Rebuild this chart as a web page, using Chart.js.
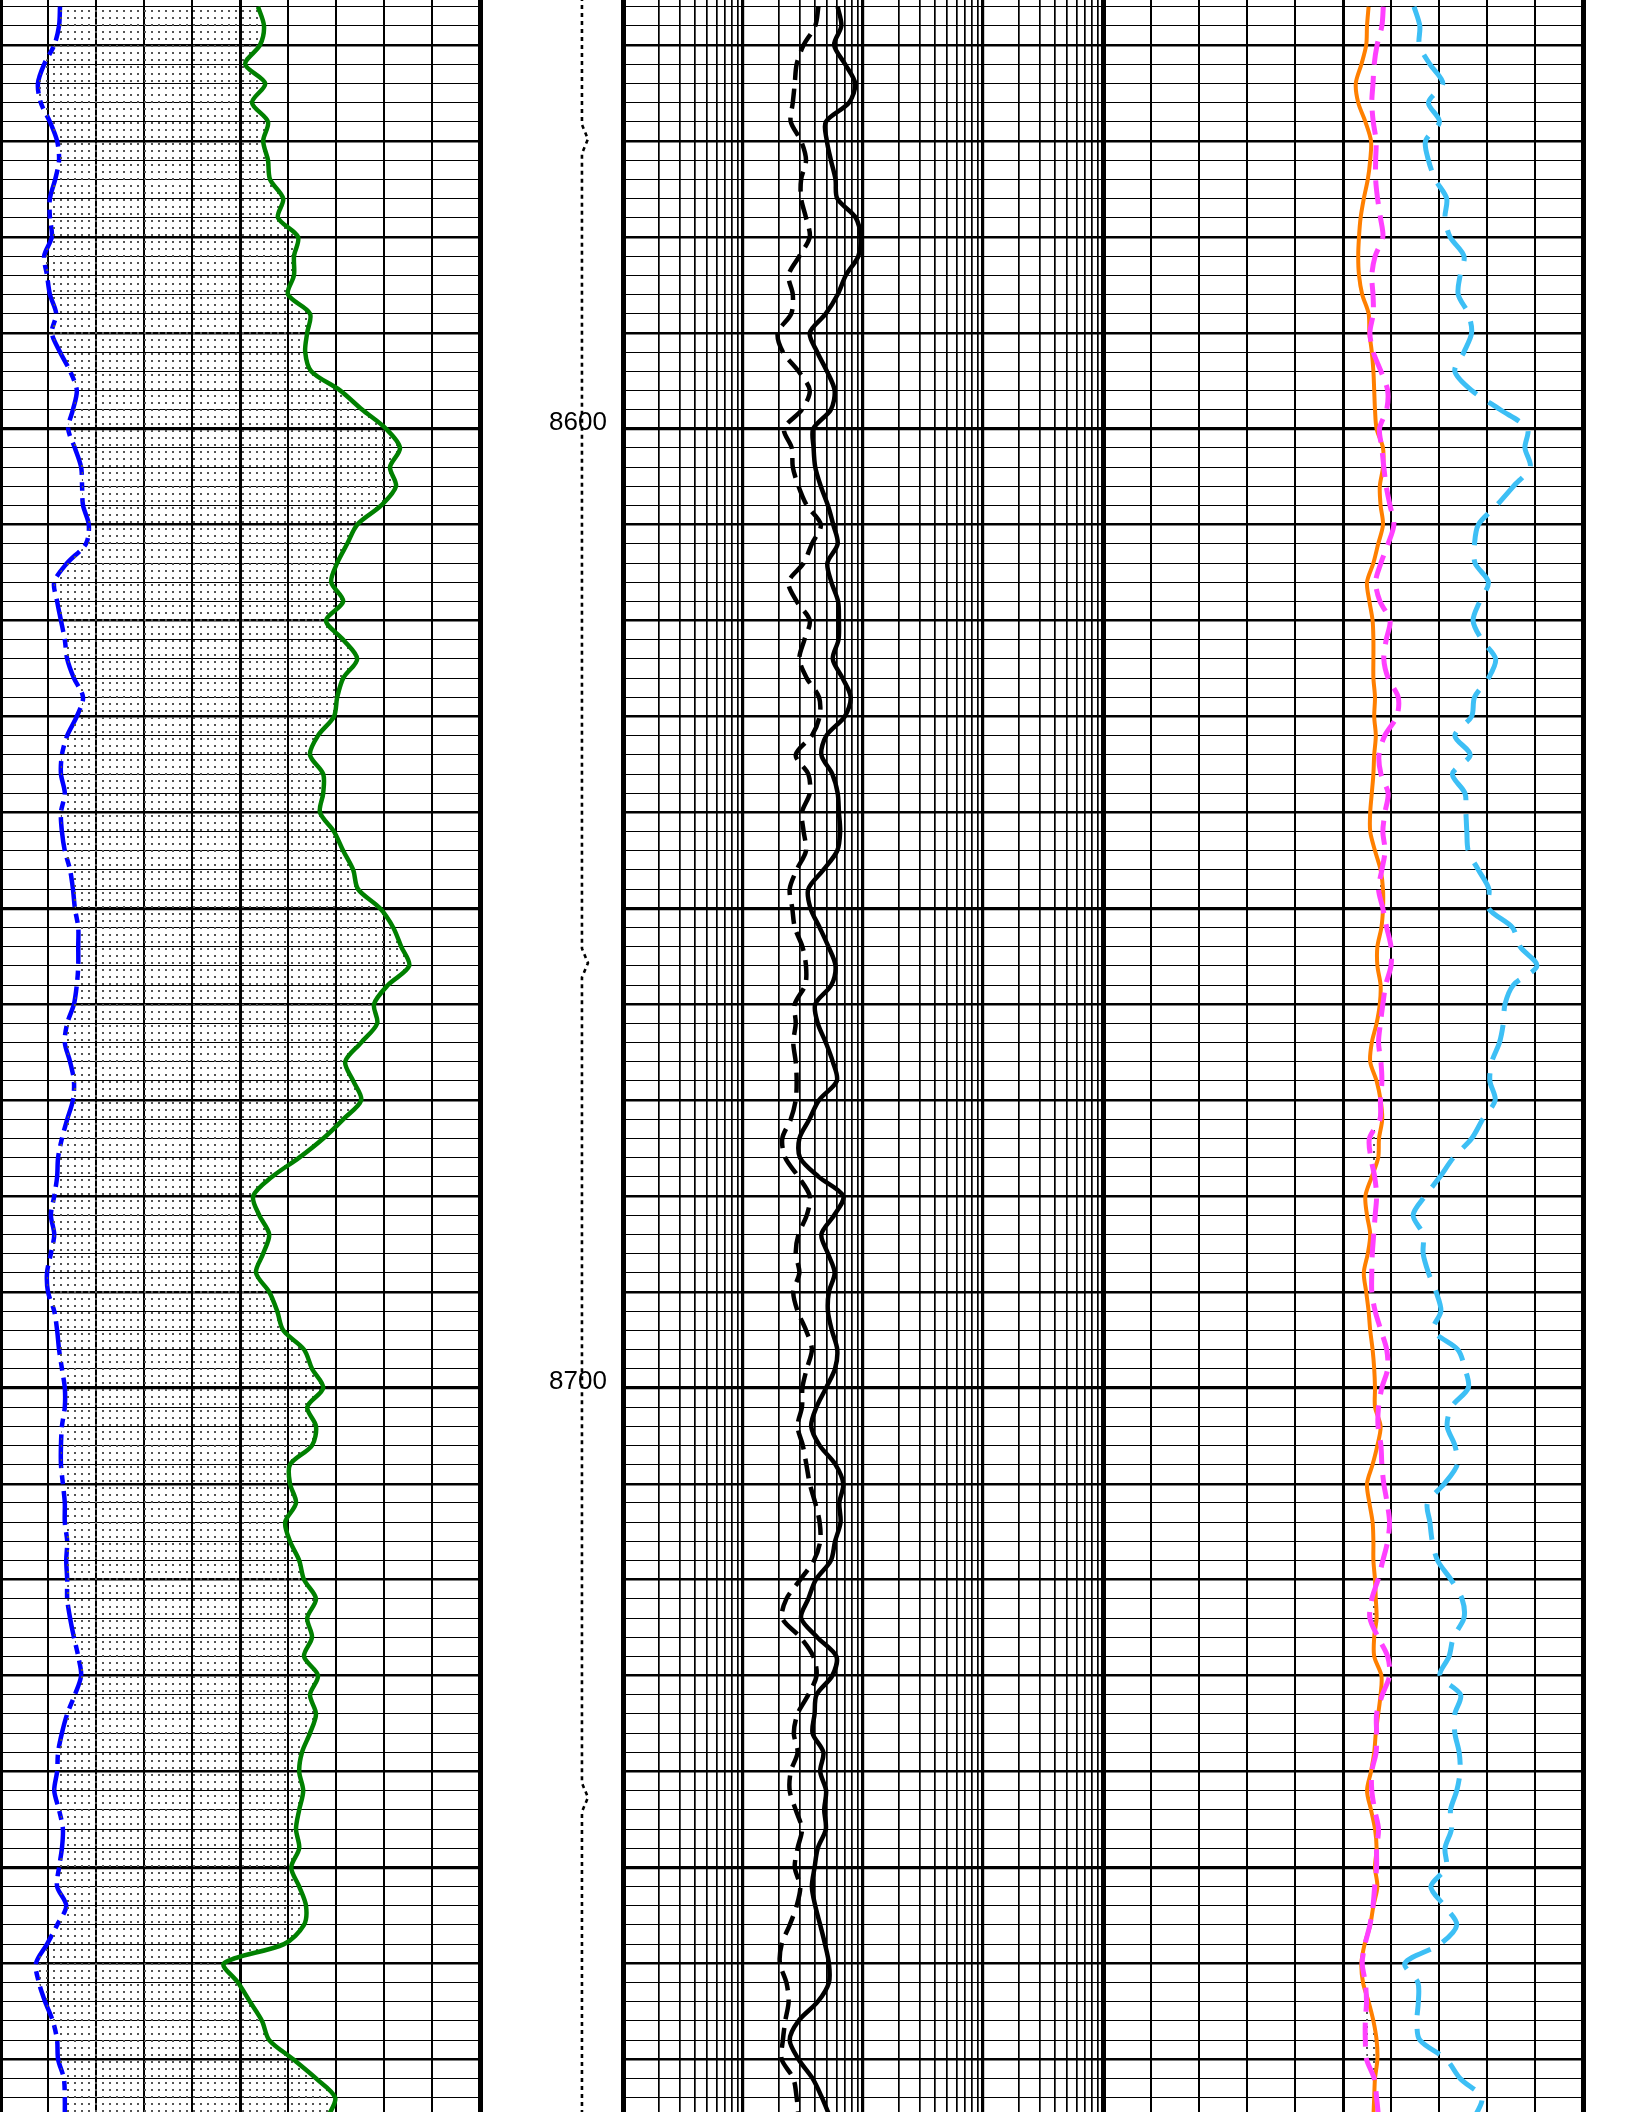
<!DOCTYPE html>
<html>
<head>
<meta charset="utf-8">
<title>Well log 8555 - 8775 ft</title>
<script src="https://cdn.jsdelivr.net/npm/chart.js@4.4.1/dist/chart.umd.min.js"></script>
<style>
  html, body { margin: 0; padding: 0; background: #fff; }
  #log { position: relative; width: 1632px; height: 2112px; overflow: hidden; background: #fff; }
  .track { position: absolute; top: 0; height: 2112px; }
  .track canvas { display: block; }
</style>
</head>
<body>
<div id="log">
  <div class="track" id="trk-gr"    style="left:-6px;   width:492px;"><canvas id="c-gr"></canvas></div>
  <div class="track" id="trk-depth" style="left:480px;  width:143px;"><canvas id="c-depth"></canvas></div>
  <div class="track" id="trk-res"   style="left:617px;  width:492px;"><canvas id="c-res"></canvas></div>
  <div class="track" id="trk-por"   style="left:1097px; width:492px;"><canvas id="c-por"></canvas></div>
</div>
<script>
'use strict';

const Chart = window.Chart;

// ─────────────────────────────────────────────────────────────
// 1. Data (read off the log, one sample every 2 ft)
// ─────────────────────────────────────────────────────────────

const TOP_DEPTH  = 8555.3;
const BASE_DEPTH = 8775.5;

const DEPTH = [
  8556, 8558, 8560, 8562, 8564, 8566, 8568, 8570, 8572, 8574,
  8576, 8578, 8580, 8582, 8584, 8586, 8588, 8590, 8592, 8594,
  8596, 8598, 8600, 8602, 8604, 8606, 8608, 8610, 8612, 8614,
  8616, 8618, 8620, 8622, 8624, 8626, 8628, 8630, 8632, 8634,
  8636, 8638, 8640, 8642, 8644, 8646, 8648, 8650, 8652, 8654,
  8656, 8658, 8660, 8662, 8664, 8666, 8668, 8670, 8672, 8674,
  8676, 8678, 8680, 8682, 8684, 8686, 8688, 8690, 8692, 8694,
  8696, 8698, 8700, 8702, 8704, 8706, 8708, 8710, 8712, 8714,
  8716, 8718, 8720, 8722, 8724, 8726, 8728, 8730, 8732, 8734,
  8736, 8738, 8740, 8742, 8744, 8746, 8748, 8750, 8752, 8754,
  8756, 8758, 8760, 8762, 8764, 8766, 8768, 8770, 8772, 8774,
  8776,
];

// gamma ray, API (track 1, green)
const GR = [
  64.5, 66, 65, 61.3, 66.3, 63, 67, 65.8, 67, 67.5,
  70.8, 69.5, 74.5, 73.5, 73.5, 72, 77.5, 76.8, 76.3, 77.8,
  85, 90.5, 96.5, 100, 97.5, 99, 95.3, 89.3, 86.8, 84.3,
  82.8, 85.8, 81.5, 85.8, 89.3, 85.8, 84.3, 83.5, 79.5, 77.5,
  80.8, 80.8, 80, 83.5, 85.8, 88.3, 89.5, 95, 98.3, 100.3,
  102.3, 97, 93.5, 94.3, 90.3, 86.3, 88.3, 90.3, 85.8, 80.8,
  74.8, 68, 63.3, 64.8, 67.3, 65.8, 64, 67.3, 69.3, 70.8,
  76, 78, 80.8, 76.8, 79, 78, 72.5, 72.5, 74, 71.3,
  72.5, 74.8, 76, 79, 76.8, 78, 76, 79.5, 77.5, 79,
  77.5, 75.5, 74.8, 75.8, 74.8, 74, 74.8, 72.8, 74.8, 76.5,
  76, 71, 56, 59.5, 62.5, 65.5, 67.3, 73.3, 79, 83.8,
  82,
];

// caliper, in (track 1, blue)
const CALI = [
  7.25, 7.23, 7.13, 6.92, 6.79, 6.85, 7.04, 7.19, 7.23, 7.15,
  7.04, 7.04, 7.08, 6.92, 6.98, 7.04, 7.17, 7.08, 7.25, 7.46,
  7.60, 7.52, 7.42, 7.56, 7.69, 7.71, 7.73, 7.85, 7.79, 7.40,
  7.13, 7.19, 7.27, 7.35, 7.40, 7.54, 7.73, 7.60, 7.40, 7.29,
  7.27, 7.35, 7.27, 7.29, 7.35, 7.46, 7.52, 7.56, 7.63, 7.63,
  7.63, 7.60, 7.54, 7.40, 7.35, 7.46, 7.54, 7.52, 7.40, 7.29,
  7.21, 7.19, 7.13, 7.06, 7.13, 7.06, 6.98, 7.00, 7.13, 7.19,
  7.23, 7.29, 7.35, 7.35, 7.29, 7.27, 7.27, 7.31, 7.35, 7.35,
  7.40, 7.38, 7.40, 7.40, 7.46, 7.54, 7.63, 7.69, 7.56, 7.40,
  7.29, 7.21, 7.19, 7.13, 7.23, 7.31, 7.29, 7.23, 7.19, 7.38,
  7.19, 6.98, 6.75, 6.81, 6.94, 7.10, 7.19, 7.21, 7.33, 7.35,
  7.35,
];

// deep resistivity, ohm.m (track 2, solid)
const RES_DEEP = [
  12.3, 13.2, 11.5, 14.2, 17.2, 15.3, 9.8, 10.0, 10.8, 11.8,
  12.2, 17.4, 19.1, 18.3, 14.4, 12.3, 9.8, 7.2, 8.3, 10.0,
  11.6, 10.8, 7.7, 7.75, 8.0, 8.9, 10.2, 11.3, 12.3, 10.1,
  10.9, 12.4, 12.6, 12.5, 11.2, 13.5, 15.8, 14.1, 9.9, 9.0,
  11.1, 12.3, 12.6, 12.9, 12.2, 9.35, 7.0, 7.3, 8.7, 10.3,
  11.8, 10.9, 8.0, 8.4, 9.8, 11.2, 12.1, 8.6, 7.15, 5.9,
  5.97, 8.55, 13.7, 11.5, 9.0, 10.2, 11.6, 10.4, 10.2, 11.0,
  12.2, 11.7, 9.85, 8.2, 7.4, 8.7, 11.8, 13.7, 12.7, 13.0,
  11.7, 10.8, 8.1, 7.0, 6.1, 8.3, 12.0, 11.1, 8.2, 7.9,
  7.6, 9.35, 8.8, 9.85, 9.5, 9.8, 8.4, 7.9, 7.5, 8.0,
  8.8, 9.65, 10.4, 10.4, 8.4, 5.8, 4.9, 5.8, 7.6, 9.1,
  10.6,
];

// shallow resistivity, ohm.m (track 2, dashed)
const RES_SHAL = [
  8.5, 8.0, 6.4, 5.6, 5.4, 5.2, 5.0, 6.1, 6.7, 6.1,
  6.1, 6.7, 7.2, 5.9, 4.8, 5.2, 5.05, 3.9, 4.3, 5.8,
  7.2, 6.2, 4.4, 5.1, 5.2, 5.8, 6.8, 8.9, 7.5, 6.4,
  4.8, 5.6, 7.2, 6.5, 5.9, 6.8, 8.6, 8.7, 7.5, 5.5,
  7.0, 7.2, 6.2, 6.4, 6.7, 5.6, 4.9, 5.15, 5.4, 6.25,
  6.7, 6.6, 5.4, 5.5, 5.25, 5.5, 5.6, 5.5, 5.0, 4.25,
  4.5, 5.8, 7.2, 6.8, 5.8, 5.5, 5.9, 5.25, 5.7, 6.7,
  7.5, 6.8, 6.25, 6.2, 5.7, 6.3, 6.75, 7.2, 8.0, 8.7,
  8.8, 7.8, 6.0, 4.6, 4.25, 6.0, 7.7, 8.2, 7.0, 5.7,
  5.3, 5.7, 5.0, 4.9, 5.5, 6.2, 5.7, 5.4, 6.0, 5.6,
  4.9, 4.2, 4.06, 4.6, 4.8, 4.5, 4.3, 4.2, 5.25, 5.6,
  5.8,
];

// neutron porosity, v/v (track 3, orange)
const NPHI = [
  0.118, 0.120, 0.121, 0.127, 0.134, 0.131, 0.122, 0.115, 0.116, 0.119,
  0.124, 0.128, 0.130, 0.131, 0.130, 0.126, 0.118, 0.117, 0.114, 0.112,
  0.111, 0.110, 0.108, 0.100, 0.100, 0.104, 0.103, 0.100, 0.106, 0.112,
  0.120, 0.117, 0.113, 0.112, 0.112, 0.112, 0.110, 0.111, 0.109, 0.111,
  0.112, 0.114, 0.116, 0.116, 0.110, 0.103, 0.100, 0.100, 0.102, 0.107,
  0.107, 0.103, 0.104, 0.108, 0.114, 0.116, 0.108, 0.103, 0.101, 0.105,
  0.106, 0.114, 0.122, 0.120, 0.116, 0.119, 0.124, 0.121, 0.118, 0.116,
  0.113, 0.111, 0.110, 0.110, 0.103, 0.107, 0.113, 0.120, 0.117, 0.113,
  0.112, 0.112, 0.110, 0.109, 0.108, 0.111, 0.111, 0.102, 0.103, 0.106,
  0.109, 0.111, 0.115, 0.120, 0.115, 0.110, 0.108, 0.110, 0.107, 0.112,
  0.116, 0.123, 0.127, 0.125, 0.118, 0.112, 0.108, 0.107, 0.110, 0.111,
  0.112,
];

// bulk density, g/cc (track 3, magenta dashed)
const RHOB = [
  2.534, 2.531, 2.521, 2.515, 2.5125, 2.510, 2.513, 2.519, 2.518, 2.518,
  2.522, 2.528, 2.533, 2.517, 2.510, 2.5125, 2.513, 2.506, 2.513, 2.529,
  2.543, 2.541, 2.526, 2.531, 2.535, 2.540, 2.548, 2.556, 2.544, 2.529,
  2.518, 2.527, 2.548, 2.540, 2.535, 2.544, 2.565, 2.562, 2.537, 2.525,
  2.529, 2.544, 2.5375, 2.533, 2.5375, 2.531, 2.524, 2.533, 2.541, 2.550,
  2.550, 2.539, 2.533, 2.528, 2.524, 2.529, 2.531, 2.528, 2.527, 2.505,
  2.508, 2.516, 2.520, 2.517, 2.514, 2.511, 2.510, 2.510, 2.517, 2.529,
  2.541, 2.543, 2.531, 2.524, 2.523, 2.529, 2.531, 2.535, 2.542, 2.547,
  2.543, 2.533, 2.523, 2.510, 2.506, 2.523, 2.543, 2.547, 2.532, 2.520,
  2.520, 2.519, 2.510, 2.510, 2.516, 2.524, 2.520, 2.520, 2.516, 2.5125,
  2.506, 2.496, 2.490, 2.4965, 2.499, 2.4965, 2.4965, 2.499, 2.515, 2.520,
  2.524,
];

// sonic, us/ft (track 3, light blue dashed)
const DT = [
  75.2, 74.0, 74.1, 71.9, 69.2, 72.2, 69.9, 72.8, 72.2, 70.8,
  68.4, 68.75, 67.7, 64.8, 65.6, 66.0, 63.9, 63.2, 64.8, 66.7,
  63.2, 57.3, 51.6, 52.1, 51.0, 54.5, 58.0, 61.8, 62.6, 62.5,
  59.7, 61.5, 62.9, 61.1, 58.2, 59.7, 62.6, 63.2, 66.7, 63.5,
  67.2, 64.6, 64.4, 64.2, 63.9, 61.8, 59.6, 59.7, 54.7, 53.1,
  49.6, 54.5, 56.25, 56.6, 57.4, 59.0, 59.4, 58.3, 60.9, 63.2,
  67.0, 69.8, 72.9, 75.4, 73.3, 73.3, 72.2, 70.6, 69.6, 71.2,
  66.1, 64.6, 63.9, 67.4, 68.3, 66.7, 66.2, 68.9, 72.4, 71.9,
  71.4, 70.3, 67.5, 65.2, 64.8, 67.0, 67.9, 69.8, 65.5, 66.7,
  66.7, 65.8, 65.6, 66.3, 67.6, 67.4, 68.75, 68.5, 71.7, 68.9,
  66.3, 69.8, 77.1, 74.4, 74.3, 74.6, 74.0, 68.5, 65.6, 61.1,
  62.5,
];

// cable tension in the depth column (dotted), arbitrary units 0-10
const TENS_DEPTH = [8555, 8568.3, 8569.8, 8571.3, 8654.2, 8655.7, 8657.2, 8741.2, 8742.7, 8744.2, 8776];
const TENS       = [7.13, 7.13,   7.55,   7.13,   7.13,   7.55,   7.13,   7.13,   7.55,   7.13,   7.13];

// depth annotations
const DEPTH_LABELS = [8600, 8700];

// log grid for resistivity: decade starts and multipliers
const RES_DECADES = [0.2, 2, 20, 200];
const RES_MULT    = [1, 2, 3, 4, 5, 6, 7, 8, 9];

// ─────────────────────────────────────────────────────────────
// 2. Style helpers
// ─────────────────────────────────────────────────────────────

const PAD        = 6;
const TENSION    = 0.3;
const LABEL_FONT = '26px "Liberation Sans", Arial, Helvetica, sans-serif';

function makeStipple() {
  const tile = document.createElement('canvas');
  tile.width = 7;
  tile.height = 7;
  const t = tile.getContext('2d');
  t.fillStyle = '#555';
  t.fillRect(3, 3, 2, 2);
  return t.createPattern(tile, 'repeat');
}
const STIPPLE = makeStipple();

function depthGridWidth(v) {
  const d = Math.round(v);
  if (d % 50 === 0) return 3.3;
  if (d % 10 === 0) return 2.4;
  return 1;
}

/** shared vertical (depth) axis, draws the horizontal grid */
function depthAxis(showGrid) {
  return {
    type: 'linear',
    reverse: true,
    min: TOP_DEPTH,
    max: BASE_DEPTH,
    display: showGrid,
    afterBuildTicks: scale => {
      const ticks = [];
      for (let d = Math.ceil(TOP_DEPTH / 2) * 2; d <= BASE_DEPTH; d += 2) ticks.push({ value: d });
      scale.ticks = ticks;
    },
    ticks:  { display: false },
    border: { display: false },
    grid: {
      drawTicks: false,
      color: '#000',
      lineWidth: ctx => depthGridWidth(ctx.tick.value),
    },
  };
}

/** linear track axis with 10 divisions, heavy edges and centre */
function linearGridAxis(min, max, reverse) {
  return {
    type: 'linear',
    min, max, reverse: !!reverse,
    afterBuildTicks: scale => {
      const ticks = [];
      for (let k = 0; k <= 10; k++) ticks.push({ value: min + (max - min) * k / 10 });
      scale.ticks = ticks;
    },
    ticks:  { display: false },
    border: { display: false },
    grid: {
      drawTicks: false,
      color: '#000',
      lineWidth: ctx => (ctx.index === 0 || ctx.index === 10) ? 5 : (ctx.index === 5 ? 3 : 2),
    },
  };
}

function hiddenAxis(min, max, reverse) {
  return { type: 'linear', axis: 'x', min, max, reverse: !!reverse, display: false };
}

function series(values, depths) {
  const d = depths || DEPTH;
  return values.map((v, i) => ({ x: v, y: d[i] }));
}

function baseOptions(padding, scales) {
  return {
    indexAxis: 'y',
    responsive: true,
    maintainAspectRatio: false,
    animation: false,
    events: [],
    layout: { padding: { left: padding, right: padding, top: 0, bottom: 0 } },
    plugins: { legend: { display: false }, tooltip: { enabled: false } },
    elements: {
      point: { radius: 0, hoverRadius: 0 },
      line:  { tension: TENSION, borderJoinStyle: 'round' },
    },
    scales,
  };
}

// ─────────────────────────────────────────────────────────────
// 3. Plugins
// ─────────────────────────────────────────────────────────────

// stipple where density (dataset 0) sits left of neutron (dataset 1)
const crossoverFill = {
  id: 'crossoverFill',
  beforeDatasetsDraw(chart) {
    const { ctx, chartArea: a } = chart;
    const rhob = chart.getDatasetMeta(0).data;
    const nphi = chart.getDatasetMeta(1).data;
    if (!rhob.length || !nphi.length) return;
    ctx.save();
    ctx.beginPath();
    ctx.moveTo(a.left, nphi[0].y);
    nphi.forEach(p => ctx.lineTo(p.x, p.y));
    ctx.lineTo(a.left, nphi[nphi.length - 1].y);
    ctx.closePath();
    ctx.clip();
    ctx.beginPath();
    rhob.forEach((p, i) => (i ? ctx.lineTo(p.x, p.y) : ctx.moveTo(p.x, p.y)));
    for (let i = nphi.length - 1; i >= 0; i--) ctx.lineTo(nphi[i].x, nphi[i].y);
    ctx.closePath();
    ctx.fillStyle = STIPPLE;
    ctx.fill();
    ctx.restore();
  },
};

const depthLabels = {
  id: 'depthLabels',
  afterDatasetsDraw(chart) {
    const { ctx, chartArea: a, scales: { y } } = chart;
    ctx.save();
    ctx.font = LABEL_FONT;
    ctx.fillStyle = '#000';
    ctx.textAlign = 'center';
    ctx.textBaseline = 'alphabetic';
    DEPTH_LABELS.forEach(d => {
      ctx.fillText(String(d), a.left + a.width * 0.685, y.getPixelForValue(d) + 1);
    });
    ctx.restore();
  },
};

// ─────────────────────────────────────────────────────────────
// 4. Tracks
// ─────────────────────────────────────────────────────────────

// track 1: gamma ray + caliper, stipple between them
new Chart(document.getElementById('c-gr'), {
  type: 'line',
  data: {
    datasets: [
      {
        label: 'GR', data: series(GR), xAxisID: 'x',
        borderColor: '#008000', borderWidth: 4.5,
        backgroundColor: STIPPLE, fill: '+1',
      },
      {
        label: 'CALI', data: series(CALI), xAxisID: 'xCal',
        borderColor: '#0000ff', borderWidth: 4.5,
        borderDash: [34, 7, 9, 7], fill: false,
      },
    ],
  },
  options: baseOptions(PAD, {
    y: depthAxis(true),
    x: linearGridAxis(0, 120),
    xCal: hiddenAxis(6, 16),
  }),
});

// depth column
new Chart(document.getElementById('c-depth'), {
  type: 'line',
  data: {
    datasets: [
      {
        label: 'TENS', data: series(TENS, TENS_DEPTH), tension: 0,
        borderColor: '#000', borderWidth: 2.6, borderDash: [4, 4], fill: false,
      },
    ],
  },
  options: baseOptions(0, {
    y: depthAxis(false),
    x: { type: 'linear', min: 0, max: 10, display: false },
  }),
  plugins: [depthLabels],
});

// track 2: resistivity, logarithmic 0.2 - 2000
new Chart(document.getElementById('c-res'), {
  type: 'line',
  data: {
    datasets: [
      {
        label: 'Deep', data: series(RES_DEEP),
        borderColor: '#000', borderWidth: 4.5, fill: false,
      },
      {
        label: 'Shallow', data: series(RES_SHAL),
        borderColor: '#000', borderWidth: 4.5, borderDash: [20, 9], fill: false,
      },
    ],
  },
  options: baseOptions(PAD, {
    y: depthAxis(true),
    x: {
      type: 'logarithmic',
      min: 0.2,
      max: 2000,
      afterBuildTicks: scale => {
        const ticks = [];
        RES_DECADES.forEach(d => RES_MULT.forEach(m => ticks.push({ value: d * m })));
        ticks.push({ value: 2000 });
        scale.ticks = ticks;
      },
      ticks:  { display: false },
      border: { display: false },
      grid: {
        drawTicks: false,
        color: '#000',
        lineWidth: ctx => {
          if (ctx.index === 0 || ctx.index === 36) return 5;
          return ctx.index % 9 === 0 ? 3.2 : 1.7;
        },
      },
    },
  }),
});

// track 3: density / neutron / sonic
new Chart(document.getElementById('c-por'), {
  type: 'line',
  data: {
    datasets: [
      {
        label: 'RHOB', data: series(RHOB), xAxisID: 'x',
        borderColor: '#ff40ff', borderWidth: 5, borderDash: [24, 11], fill: false,
      },
      {
        label: 'NPHI', data: series(NPHI), xAxisID: 'xNphi',
        borderColor: '#ff7f00', borderWidth: 4, fill: false,
      },
      {
        label: 'DT', data: series(DT), xAxisID: 'xDt',
        borderColor: '#3dbff5', borderWidth: 5, borderDash: [36, 14], fill: false,
      },
    ],
  },
  options: baseOptions(PAD, {
    y: depthAxis(true),
    x: linearGridAxis(1.95, 2.95),
    xNphi: hiddenAxis(-0.15, 0.45, true),
    xDt: hiddenAxis(40, 140, true),
  }),
  plugins: [crossoverFill],
});
</script>
</body>
</html>
